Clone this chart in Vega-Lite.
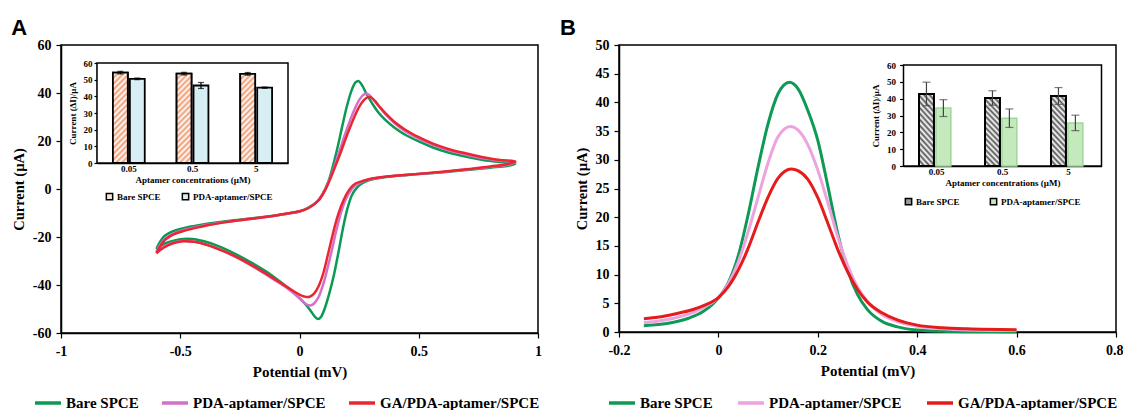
{
  "$schema": "https://vega.github.io/schema/vega-lite/v6.json",
  "padding": {"left": 10, "top": 16, "right": 0, "bottom": 0},
  "spacing": 16,
  "config": {
    "view": {"stroke": "black", "strokeWidth": 1.5},
    "font": "Liberation Serif",
    "axis": {"grid": false, "labelFlush": false, "domainColor": "black", "domainWidth": 1.5, "tickColor": "black", "tickWidth": 1.2, "tickSize": 5, "labelColor": "black", "labelFont": "Liberation Serif", "labelFontWeight": "bold", "labelFontSize": 14, "titleFont": "Liberation Serif", "titleFontWeight": "bold", "titleFontSize": 15, "titleColor": "black"},
    "legend": {"labelFont": "Liberation Serif", "labelFontWeight": "bold", "labelColor": "black"},
    "title": {"font": "Liberation Sans", "fontSize": 22, "fontWeight": "bold", "color": "black", "anchor": "start", "frame": "bounds", "offset": -2}
  },
  "datasets": {
    "cvA": [
      {"s":"Bare SPCE","i":1,"v":-0.6,"c":-25.0},{"s":"Bare SPCE","i":2,"v":-0.585,"c":-22.0},{"s":"Bare SPCE","i":3,"v":-0.565,"c":-19.5},{"s":"Bare SPCE","i":4,"v":-0.53,"c":-17.6},{"s":"Bare SPCE","i":5,"v":-0.49,"c":-16.4},{"s":"Bare SPCE","i":6,"v":-0.44,"c":-15.4},{"s":"Bare SPCE","i":7,"v":-0.38,"c":-14.4},{"s":"Bare SPCE","i":8,"v":-0.3,"c":-13.3},{"s":"Bare SPCE","i":9,"v":-0.2,"c":-12.2},{"s":"Bare SPCE","i":10,"v":-0.1,"c":-11.0},{"s":"Bare SPCE","i":11,"v":-0.04,"c":-10.1},{"s":"Bare SPCE","i":12,"v":0.0,"c":-9.4},{"s":"Bare SPCE","i":13,"v":0.04,"c":-7.6},{"s":"Bare SPCE","i":14,"v":0.07,"c":-5.6},{"s":"Bare SPCE","i":15,"v":0.096,"c":-2.2},{"s":"Bare SPCE","i":16,"v":0.12,"c":2.8},{"s":"Bare SPCE","i":17,"v":0.14,"c":9.5},{"s":"Bare SPCE","i":18,"v":0.16,"c":17.5},{"s":"Bare SPCE","i":19,"v":0.18,"c":26.5},{"s":"Bare SPCE","i":20,"v":0.2,"c":35.0},{"s":"Bare SPCE","i":21,"v":0.22,"c":41.5},{"s":"Bare SPCE","i":22,"v":0.235,"c":44.4},{"s":"Bare SPCE","i":23,"v":0.247,"c":45.0},{"s":"Bare SPCE","i":24,"v":0.26,"c":43.6},{"s":"Bare SPCE","i":25,"v":0.28,"c":39.8},{"s":"Bare SPCE","i":26,"v":0.305,"c":35.6},{"s":"Bare SPCE","i":27,"v":0.33,"c":32.0},{"s":"Bare SPCE","i":28,"v":0.36,"c":28.8},{"s":"Bare SPCE","i":29,"v":0.4,"c":25.4},{"s":"Bare SPCE","i":30,"v":0.445,"c":22.5},{"s":"Bare SPCE","i":31,"v":0.5,"c":19.8},{"s":"Bare SPCE","i":32,"v":0.557,"c":17.4},{"s":"Bare SPCE","i":33,"v":0.62,"c":15.3},{"s":"Bare SPCE","i":34,"v":0.7,"c":13.4},{"s":"Bare SPCE","i":35,"v":0.77,"c":12.1},{"s":"Bare SPCE","i":36,"v":0.84,"c":11.2},{"s":"Bare SPCE","i":37,"v":0.905,"c":10.5},{"s":"Bare SPCE","i":38,"v":0.87,"c":9.6},{"s":"Bare SPCE","i":39,"v":0.8,"c":8.9},{"s":"Bare SPCE","i":40,"v":0.7,"c":7.9},{"s":"Bare SPCE","i":41,"v":0.6,"c":7.0},{"s":"Bare SPCE","i":42,"v":0.5,"c":6.2},{"s":"Bare SPCE","i":43,"v":0.4,"c":5.4},{"s":"Bare SPCE","i":44,"v":0.34,"c":4.7},{"s":"Bare SPCE","i":45,"v":0.29,"c":3.6},{"s":"Bare SPCE","i":46,"v":0.26,"c":2.2},{"s":"Bare SPCE","i":47,"v":0.24,"c":0.5},{"s":"Bare SPCE","i":48,"v":0.22,"c":-2.5},{"s":"Bare SPCE","i":49,"v":0.2,"c":-8.5},{"s":"Bare SPCE","i":50,"v":0.18,"c":-17.5},{"s":"Bare SPCE","i":51,"v":0.165,"c":-25.5},{"s":"Bare SPCE","i":52,"v":0.145,"c":-35.5},{"s":"Bare SPCE","i":53,"v":0.125,"c":-43.5},{"s":"Bare SPCE","i":54,"v":0.105,"c":-50.0},{"s":"Bare SPCE","i":55,"v":0.09,"c":-53.3},{"s":"Bare SPCE","i":56,"v":0.078,"c":-54.2},{"s":"Bare SPCE","i":57,"v":0.065,"c":-53.3},{"s":"Bare SPCE","i":58,"v":0.045,"c":-50.5},{"s":"Bare SPCE","i":59,"v":0.02,"c":-47.5},{"s":"Bare SPCE","i":60,"v":-0.01,"c":-44.5},{"s":"Bare SPCE","i":61,"v":-0.07,"c":-39.5},{"s":"Bare SPCE","i":62,"v":-0.13,"c":-35.0},{"s":"Bare SPCE","i":63,"v":-0.2,"c":-30.8},{"s":"Bare SPCE","i":64,"v":-0.27,"c":-27.0},{"s":"Bare SPCE","i":65,"v":-0.34,"c":-23.8},{"s":"Bare SPCE","i":66,"v":-0.4,"c":-21.8},{"s":"Bare SPCE","i":67,"v":-0.45,"c":-20.8},{"s":"Bare SPCE","i":68,"v":-0.5,"c":-20.9},{"s":"Bare SPCE","i":69,"v":-0.55,"c":-22.2},{"s":"Bare SPCE","i":70,"v":-0.58,"c":-23.5},{"s":"Bare SPCE","i":71,"v":-0.6,"c":-25.0},
      {"s":"PDA-aptamer/SPCE","i":1,"v":-0.6,"c":-26.2},{"s":"PDA-aptamer/SPCE","i":2,"v":-0.585,"c":-23.4},{"s":"PDA-aptamer/SPCE","i":3,"v":-0.565,"c":-20.8},{"s":"PDA-aptamer/SPCE","i":4,"v":-0.53,"c":-18.6},{"s":"PDA-aptamer/SPCE","i":5,"v":-0.49,"c":-17.2},{"s":"PDA-aptamer/SPCE","i":6,"v":-0.44,"c":-16.0},{"s":"PDA-aptamer/SPCE","i":7,"v":-0.38,"c":-14.8},{"s":"PDA-aptamer/SPCE","i":8,"v":-0.3,"c":-13.6},{"s":"PDA-aptamer/SPCE","i":9,"v":-0.2,"c":-12.4},{"s":"PDA-aptamer/SPCE","i":10,"v":-0.1,"c":-11.1},{"s":"PDA-aptamer/SPCE","i":11,"v":-0.04,"c":-10.1},{"s":"PDA-aptamer/SPCE","i":12,"v":0.0,"c":-9.4},{"s":"PDA-aptamer/SPCE","i":13,"v":0.04,"c":-7.8},{"s":"PDA-aptamer/SPCE","i":14,"v":0.08,"c":-4.6},{"s":"PDA-aptamer/SPCE","i":15,"v":0.11,"c":0.3},{"s":"PDA-aptamer/SPCE","i":16,"v":0.13,"c":5.0},{"s":"PDA-aptamer/SPCE","i":17,"v":0.15,"c":10.5},{"s":"PDA-aptamer/SPCE","i":18,"v":0.17,"c":16.5},{"s":"PDA-aptamer/SPCE","i":19,"v":0.19,"c":22.5},{"s":"PDA-aptamer/SPCE","i":20,"v":0.21,"c":28.0},{"s":"PDA-aptamer/SPCE","i":21,"v":0.23,"c":33.0},{"s":"PDA-aptamer/SPCE","i":22,"v":0.25,"c":37.0},{"s":"PDA-aptamer/SPCE","i":23,"v":0.265,"c":39.0},{"s":"PDA-aptamer/SPCE","i":24,"v":0.278,"c":39.7},{"s":"PDA-aptamer/SPCE","i":25,"v":0.29,"c":39.3},{"s":"PDA-aptamer/SPCE","i":26,"v":0.305,"c":37.8},{"s":"PDA-aptamer/SPCE","i":27,"v":0.33,"c":34.8},{"s":"PDA-aptamer/SPCE","i":28,"v":0.36,"c":31.2},{"s":"PDA-aptamer/SPCE","i":29,"v":0.4,"c":27.3},{"s":"PDA-aptamer/SPCE","i":30,"v":0.445,"c":24.0},{"s":"PDA-aptamer/SPCE","i":31,"v":0.5,"c":21.0},{"s":"PDA-aptamer/SPCE","i":32,"v":0.557,"c":18.5},{"s":"PDA-aptamer/SPCE","i":33,"v":0.62,"c":16.3},{"s":"PDA-aptamer/SPCE","i":34,"v":0.7,"c":14.3},{"s":"PDA-aptamer/SPCE","i":35,"v":0.77,"c":12.8},{"s":"PDA-aptamer/SPCE","i":36,"v":0.84,"c":11.8},{"s":"PDA-aptamer/SPCE","i":37,"v":0.905,"c":11.1},{"s":"PDA-aptamer/SPCE","i":38,"v":0.87,"c":10.0},{"s":"PDA-aptamer/SPCE","i":39,"v":0.8,"c":9.2},{"s":"PDA-aptamer/SPCE","i":40,"v":0.7,"c":8.1},{"s":"PDA-aptamer/SPCE","i":41,"v":0.6,"c":7.1},{"s":"PDA-aptamer/SPCE","i":42,"v":0.5,"c":6.3},{"s":"PDA-aptamer/SPCE","i":43,"v":0.4,"c":5.5},{"s":"PDA-aptamer/SPCE","i":44,"v":0.34,"c":4.8},{"s":"PDA-aptamer/SPCE","i":45,"v":0.29,"c":3.9},{"s":"PDA-aptamer/SPCE","i":46,"v":0.26,"c":2.9},{"s":"PDA-aptamer/SPCE","i":47,"v":0.235,"c":1.7},{"s":"PDA-aptamer/SPCE","i":48,"v":0.215,"c":-0.6},{"s":"PDA-aptamer/SPCE","i":49,"v":0.195,"c":-4.0},{"s":"PDA-aptamer/SPCE","i":50,"v":0.175,"c":-9.5},{"s":"PDA-aptamer/SPCE","i":51,"v":0.155,"c":-17.0},{"s":"PDA-aptamer/SPCE","i":52,"v":0.138,"c":-24.5},{"s":"PDA-aptamer/SPCE","i":53,"v":0.12,"c":-32.0},{"s":"PDA-aptamer/SPCE","i":54,"v":0.1,"c":-39.5},{"s":"PDA-aptamer/SPCE","i":55,"v":0.08,"c":-45.0},{"s":"PDA-aptamer/SPCE","i":56,"v":0.06,"c":-47.8},{"s":"PDA-aptamer/SPCE","i":57,"v":0.045,"c":-48.5},{"s":"PDA-aptamer/SPCE","i":58,"v":0.025,"c":-47.8},{"s":"PDA-aptamer/SPCE","i":59,"v":0.0,"c":-45.5},{"s":"PDA-aptamer/SPCE","i":60,"v":-0.04,"c":-42.2},{"s":"PDA-aptamer/SPCE","i":61,"v":-0.1,"c":-38.2},{"s":"PDA-aptamer/SPCE","i":62,"v":-0.17,"c":-33.8},{"s":"PDA-aptamer/SPCE","i":63,"v":-0.25,"c":-29.2},{"s":"PDA-aptamer/SPCE","i":64,"v":-0.32,"c":-25.9},{"s":"PDA-aptamer/SPCE","i":65,"v":-0.39,"c":-23.2},{"s":"PDA-aptamer/SPCE","i":66,"v":-0.44,"c":-22.0},{"s":"PDA-aptamer/SPCE","i":67,"v":-0.49,"c":-21.7},{"s":"PDA-aptamer/SPCE","i":68,"v":-0.53,"c":-22.4},{"s":"PDA-aptamer/SPCE","i":69,"v":-0.57,"c":-24.1},{"s":"PDA-aptamer/SPCE","i":70,"v":-0.6,"c":-26.2},
      {"s":"GA/PDA-aptamer/SPCE","i":1,"v":-0.6,"c":-26.8},{"s":"GA/PDA-aptamer/SPCE","i":2,"v":-0.585,"c":-24.0},{"s":"GA/PDA-aptamer/SPCE","i":3,"v":-0.565,"c":-21.3},{"s":"GA/PDA-aptamer/SPCE","i":4,"v":-0.53,"c":-19.0},{"s":"GA/PDA-aptamer/SPCE","i":5,"v":-0.49,"c":-17.6},{"s":"GA/PDA-aptamer/SPCE","i":6,"v":-0.44,"c":-16.3},{"s":"GA/PDA-aptamer/SPCE","i":7,"v":-0.38,"c":-15.0},{"s":"GA/PDA-aptamer/SPCE","i":8,"v":-0.3,"c":-13.7},{"s":"GA/PDA-aptamer/SPCE","i":9,"v":-0.2,"c":-12.4},{"s":"GA/PDA-aptamer/SPCE","i":10,"v":-0.1,"c":-11.0},{"s":"GA/PDA-aptamer/SPCE","i":11,"v":-0.04,"c":-10.0},{"s":"GA/PDA-aptamer/SPCE","i":12,"v":0.0,"c":-9.3},{"s":"GA/PDA-aptamer/SPCE","i":13,"v":0.04,"c":-7.8},{"s":"GA/PDA-aptamer/SPCE","i":14,"v":0.08,"c":-4.8},{"s":"GA/PDA-aptamer/SPCE","i":15,"v":0.11,"c":0.0},{"s":"GA/PDA-aptamer/SPCE","i":16,"v":0.13,"c":4.5},{"s":"GA/PDA-aptamer/SPCE","i":17,"v":0.15,"c":9.5},{"s":"GA/PDA-aptamer/SPCE","i":18,"v":0.17,"c":14.5},{"s":"GA/PDA-aptamer/SPCE","i":19,"v":0.19,"c":20.0},{"s":"GA/PDA-aptamer/SPCE","i":20,"v":0.21,"c":25.2},{"s":"GA/PDA-aptamer/SPCE","i":21,"v":0.23,"c":30.0},{"s":"GA/PDA-aptamer/SPCE","i":22,"v":0.25,"c":34.2},{"s":"GA/PDA-aptamer/SPCE","i":23,"v":0.27,"c":37.0},{"s":"GA/PDA-aptamer/SPCE","i":24,"v":0.285,"c":38.2},{"s":"GA/PDA-aptamer/SPCE","i":25,"v":0.298,"c":38.3},{"s":"GA/PDA-aptamer/SPCE","i":26,"v":0.315,"c":36.8},{"s":"GA/PDA-aptamer/SPCE","i":27,"v":0.335,"c":34.4},{"s":"GA/PDA-aptamer/SPCE","i":28,"v":0.36,"c":31.6},{"s":"GA/PDA-aptamer/SPCE","i":29,"v":0.4,"c":27.8},{"s":"GA/PDA-aptamer/SPCE","i":30,"v":0.445,"c":24.6},{"s":"GA/PDA-aptamer/SPCE","i":31,"v":0.5,"c":21.6},{"s":"GA/PDA-aptamer/SPCE","i":32,"v":0.557,"c":19.0},{"s":"GA/PDA-aptamer/SPCE","i":33,"v":0.62,"c":16.8},{"s":"GA/PDA-aptamer/SPCE","i":34,"v":0.7,"c":14.8},{"s":"GA/PDA-aptamer/SPCE","i":35,"v":0.77,"c":13.2},{"s":"GA/PDA-aptamer/SPCE","i":36,"v":0.84,"c":12.1},{"s":"GA/PDA-aptamer/SPCE","i":37,"v":0.905,"c":11.5},{"s":"GA/PDA-aptamer/SPCE","i":38,"v":0.87,"c":10.3},{"s":"GA/PDA-aptamer/SPCE","i":39,"v":0.8,"c":9.4},{"s":"GA/PDA-aptamer/SPCE","i":40,"v":0.7,"c":8.2},{"s":"GA/PDA-aptamer/SPCE","i":41,"v":0.6,"c":7.2},{"s":"GA/PDA-aptamer/SPCE","i":42,"v":0.5,"c":6.3},{"s":"GA/PDA-aptamer/SPCE","i":43,"v":0.4,"c":5.5},{"s":"GA/PDA-aptamer/SPCE","i":44,"v":0.34,"c":4.9},{"s":"GA/PDA-aptamer/SPCE","i":45,"v":0.29,"c":4.1},{"s":"GA/PDA-aptamer/SPCE","i":46,"v":0.26,"c":3.2},{"s":"GA/PDA-aptamer/SPCE","i":47,"v":0.235,"c":2.3},{"s":"GA/PDA-aptamer/SPCE","i":48,"v":0.215,"c":0.5},{"s":"GA/PDA-aptamer/SPCE","i":49,"v":0.195,"c":-2.5},{"s":"GA/PDA-aptamer/SPCE","i":50,"v":0.175,"c":-7.0},{"s":"GA/PDA-aptamer/SPCE","i":51,"v":0.155,"c":-13.0},{"s":"GA/PDA-aptamer/SPCE","i":52,"v":0.138,"c":-19.5},{"s":"GA/PDA-aptamer/SPCE","i":53,"v":0.12,"c":-27.0},{"s":"GA/PDA-aptamer/SPCE","i":54,"v":0.1,"c":-35.0},{"s":"GA/PDA-aptamer/SPCE","i":55,"v":0.08,"c":-40.5},{"s":"GA/PDA-aptamer/SPCE","i":56,"v":0.06,"c":-43.7},{"s":"GA/PDA-aptamer/SPCE","i":57,"v":0.04,"c":-45.0},{"s":"GA/PDA-aptamer/SPCE","i":58,"v":0.02,"c":-44.8},{"s":"GA/PDA-aptamer/SPCE","i":59,"v":0.0,"c":-44.0},{"s":"GA/PDA-aptamer/SPCE","i":60,"v":-0.04,"c":-41.6},{"s":"GA/PDA-aptamer/SPCE","i":61,"v":-0.1,"c":-37.8},{"s":"GA/PDA-aptamer/SPCE","i":62,"v":-0.17,"c":-33.5},{"s":"GA/PDA-aptamer/SPCE","i":63,"v":-0.25,"c":-29.0},{"s":"GA/PDA-aptamer/SPCE","i":64,"v":-0.32,"c":-25.8},{"s":"GA/PDA-aptamer/SPCE","i":65,"v":-0.39,"c":-23.2},{"s":"GA/PDA-aptamer/SPCE","i":66,"v":-0.44,"c":-22.0},{"s":"GA/PDA-aptamer/SPCE","i":67,"v":-0.49,"c":-21.8},{"s":"GA/PDA-aptamer/SPCE","i":68,"v":-0.53,"c":-22.6},{"s":"GA/PDA-aptamer/SPCE","i":69,"v":-0.57,"c":-24.5},{"s":"GA/PDA-aptamer/SPCE","i":70,"v":-0.6,"c":-26.8}
    ],
    "dpvB": [
      {"s":"Bare SPCE","v":-0.15,"c":1.1},{"s":"Bare SPCE","v":-0.12,"c":1.3},{"s":"Bare SPCE","v":-0.09,"c":1.7},{"s":"Bare SPCE","v":-0.06,"c":2.4},{"s":"Bare SPCE","v":-0.03,"c":3.6},{"s":"Bare SPCE","v":0.0,"c":5.9},{"s":"Bare SPCE","v":0.02,"c":8.6},{"s":"Bare SPCE","v":0.04,"c":13.3},{"s":"Bare SPCE","v":0.06,"c":20.5},{"s":"Bare SPCE","v":0.08,"c":28.8},{"s":"Bare SPCE","v":0.1,"c":36.3},{"s":"Bare SPCE","v":0.12,"c":41.5},{"s":"Bare SPCE","v":0.143,"c":43.5},{"s":"Bare SPCE","v":0.16,"c":42.4},{"s":"Bare SPCE","v":0.18,"c":38.6},{"s":"Bare SPCE","v":0.2,"c":33.4},{"s":"Bare SPCE","v":0.22,"c":25.5},{"s":"Bare SPCE","v":0.24,"c":17.2},{"s":"Bare SPCE","v":0.26,"c":10.8},{"s":"Bare SPCE","v":0.28,"c":6.5},{"s":"Bare SPCE","v":0.3,"c":3.9},{"s":"Bare SPCE","v":0.33,"c":1.8},{"s":"Bare SPCE","v":0.36,"c":0.9},{"s":"Bare SPCE","v":0.4,"c":0.35},{"s":"Bare SPCE","v":0.45,"c":0.12},{"s":"Bare SPCE","v":0.5,"c":0.05},{"s":"Bare SPCE","v":0.6,"c":0.02},
      {"s":"PDA-aptamer/SPCE","v":-0.15,"c":1.6},{"s":"PDA-aptamer/SPCE","v":-0.12,"c":1.9},{"s":"PDA-aptamer/SPCE","v":-0.09,"c":2.4},{"s":"PDA-aptamer/SPCE","v":-0.06,"c":3.1},{"s":"PDA-aptamer/SPCE","v":-0.03,"c":4.3},{"s":"PDA-aptamer/SPCE","v":0.0,"c":6.0},{"s":"PDA-aptamer/SPCE","v":0.02,"c":8.4},{"s":"PDA-aptamer/SPCE","v":0.04,"c":12.2},{"s":"PDA-aptamer/SPCE","v":0.06,"c":17.5},{"s":"PDA-aptamer/SPCE","v":0.08,"c":23.5},{"s":"PDA-aptamer/SPCE","v":0.1,"c":29.5},{"s":"PDA-aptamer/SPCE","v":0.12,"c":34.0},{"s":"PDA-aptamer/SPCE","v":0.145,"c":35.8},{"s":"PDA-aptamer/SPCE","v":0.16,"c":35.2},{"s":"PDA-aptamer/SPCE","v":0.18,"c":32.6},{"s":"PDA-aptamer/SPCE","v":0.2,"c":28.2},{"s":"PDA-aptamer/SPCE","v":0.22,"c":22.6},{"s":"PDA-aptamer/SPCE","v":0.24,"c":16.6},{"s":"PDA-aptamer/SPCE","v":0.26,"c":11.6},{"s":"PDA-aptamer/SPCE","v":0.28,"c":7.8},{"s":"PDA-aptamer/SPCE","v":0.3,"c":5.3},{"s":"PDA-aptamer/SPCE","v":0.33,"c":3.0},{"s":"PDA-aptamer/SPCE","v":0.36,"c":1.8},{"s":"PDA-aptamer/SPCE","v":0.4,"c":1.0},{"s":"PDA-aptamer/SPCE","v":0.45,"c":0.55},{"s":"PDA-aptamer/SPCE","v":0.5,"c":0.35},{"s":"PDA-aptamer/SPCE","v":0.6,"c":0.25},
      {"s":"GA/PDA-aptamer/SPCE","v":-0.15,"c":2.3},{"s":"GA/PDA-aptamer/SPCE","v":-0.12,"c":2.6},{"s":"GA/PDA-aptamer/SPCE","v":-0.09,"c":3.1},{"s":"GA/PDA-aptamer/SPCE","v":-0.06,"c":3.7},{"s":"GA/PDA-aptamer/SPCE","v":-0.03,"c":4.6},{"s":"GA/PDA-aptamer/SPCE","v":0.0,"c":6.0},{"s":"GA/PDA-aptamer/SPCE","v":0.02,"c":7.9},{"s":"GA/PDA-aptamer/SPCE","v":0.04,"c":10.8},{"s":"GA/PDA-aptamer/SPCE","v":0.06,"c":14.6},{"s":"GA/PDA-aptamer/SPCE","v":0.08,"c":19.2},{"s":"GA/PDA-aptamer/SPCE","v":0.1,"c":23.5},{"s":"GA/PDA-aptamer/SPCE","v":0.12,"c":26.8},{"s":"GA/PDA-aptamer/SPCE","v":0.147,"c":28.4},{"s":"GA/PDA-aptamer/SPCE","v":0.16,"c":28.1},{"s":"GA/PDA-aptamer/SPCE","v":0.18,"c":26.6},{"s":"GA/PDA-aptamer/SPCE","v":0.2,"c":23.4},{"s":"GA/PDA-aptamer/SPCE","v":0.22,"c":19.0},{"s":"GA/PDA-aptamer/SPCE","v":0.24,"c":14.4},{"s":"GA/PDA-aptamer/SPCE","v":0.26,"c":10.5},{"s":"GA/PDA-aptamer/SPCE","v":0.28,"c":7.4},{"s":"GA/PDA-aptamer/SPCE","v":0.3,"c":5.2},{"s":"GA/PDA-aptamer/SPCE","v":0.33,"c":3.3},{"s":"GA/PDA-aptamer/SPCE","v":0.36,"c":2.1},{"s":"GA/PDA-aptamer/SPCE","v":0.4,"c":1.2},{"s":"GA/PDA-aptamer/SPCE","v":0.45,"c":0.75},{"s":"GA/PDA-aptamer/SPCE","v":0.5,"c":0.55},{"s":"GA/PDA-aptamer/SPCE","v":0.6,"c":0.4}
    ],
    "barsA": [
      {"conc":"0.05","g":"Bare SPCE","val":54.2,"lo":53.4,"hi":55.0},
      {"conc":"0.05","g":"PDA-aptamer/SPCE","val":50.5,"lo":50.0,"hi":51.0},
      {"conc":"0.5","g":"Bare SPCE","val":53.6,"lo":52.8,"hi":54.4},
      {"conc":"0.5","g":"PDA-aptamer/SPCE","val":46.5,"lo":44.7,"hi":48.3},
      {"conc":"5","g":"Bare SPCE","val":53.5,"lo":52.7,"hi":54.3},
      {"conc":"5","g":"PDA-aptamer/SPCE","val":45.2,"lo":44.8,"hi":45.6}
    ],
    "barsB": [
      {"conc":"0.05","g":"Bare SPCE","val":42.8,"lo":35.8,"hi":49.8},
      {"conc":"0.05","g":"PDA-aptamer/SPCE","val":34.4,"lo":29.4,"hi":39.4},
      {"conc":"0.5","g":"Bare SPCE","val":40.4,"lo":36.1,"hi":44.7},
      {"conc":"0.5","g":"PDA-aptamer/SPCE","val":28.4,"lo":22.9,"hi":33.9},
      {"conc":"5","g":"Bare SPCE","val":41.6,"lo":36.6,"hi":46.6},
      {"conc":"5","g":"PDA-aptamer/SPCE","val":25.6,"lo":21.0,"hi":30.2}
    ]
  },
  "resolve": {"scale": {"color": "independent", "fill": "independent"}},
  "hconcat": [
    {
      "title": {"text": "A"},
      "width": 477,
      "height": 288,
      "resolve": {"scale": {"x": "independent", "y": "independent"}},
      "layer": [
        {
          "data": {"name": "cvA"},
          "mark": {"type": "line", "interpolate": "catmull-rom", "strokeWidth": 2.5},
          "encoding": {
            "x": {"field": "v", "type": "quantitative", "scale": {"domain": [-1, 1], "nice": false, "zero": false},
                  "axis": {"values": [-1, -0.5, 0, 0.5, 1], "format": "~g", "labelExpr": "replace(datum.label, '−', '-')", "title": "Potential (mV)", "labelPadding": 6, "titlePadding": 6}},
            "y": {"field": "c", "type": "quantitative", "scale": {"domain": [-60, 60], "nice": false},
                  "axis": {"values": [-60, -40, -20, 0, 20, 40, 60], "labelExpr": "replace(datum.label, '−', '-')", "title": "Current  (µA)", "titleFontSize": 14.5, "labelPadding": 5, "titlePadding": 6}},
            "color": {"field": "s", "type": "nominal",
                      "scale": {"domain": ["Bare SPCE", "PDA-aptamer/SPCE", "GA/PDA-aptamer/SPCE"], "range": ["#0b9a55", "#d66fc6", "#ea2631"]},
                      "legend": {"title": null, "orient": "none", "legendX": -28, "legendY": 343, "direction": "horizontal", "symbolType": "stroke", "symbolSize": 676, "symbolStrokeWidth": 3.5, "labelFontSize": 15, "labelOffset": 3, "columnPadding": 16}},
            "order": {"field": "i", "type": "quantitative"}
          }
        },
        {
          "data": {"values": [{"x0": 0, "x1": 1, "y0": 0, "y1": 60}]},
          "mark": {"type": "rect", "fill": "white", "stroke": "black", "strokeWidth": 1.5},
          "encoding": {
            "x": {"field": "x0", "type": "quantitative", "scale": {"domain": [0, 1], "range": [36, 227], "nice": false, "zero": false}, "axis": null},
            "x2": {"field": "x1"},
            "y": {"field": "y0", "type": "quantitative", "scale": {"domain": [0, 60], "range": [118, 18], "nice": false}, "axis": null},
            "y2": {"field": "y1"}
          }
        },
        {
          "data": {"name": "barsA"},
          "encoding": {
            "x": {"field": "conc", "type": "ordinal", "sort": ["0.05", "0.5", "5"], "scale": {"range": [36, 227], "paddingInner": 0.5, "paddingOuter": 0.25},
                  "axis": {"orient": "bottom", "offset": -170, "title": "Aptamer concentrations (µM)", "titleFontSize": 9, "labelFontSize": 9, "labelAngle": 0, "ticks": false, "labelPadding": 1, "titlePadding": 2}},
            "xOffset": {"field": "g", "type": "nominal", "sort": ["Bare SPCE", "PDA-aptamer/SPCE"], "scale": {"paddingInner": 0.12}}
          },
          "layer": [
            {
              "mark": {"type": "bar", "stroke": "black", "strokeWidth": 1.8},
              "encoding": {
                "y": {"field": "val", "type": "quantitative", "scale": {"domain": [0, 60], "range": [118, 18], "nice": false},
                      "axis": {"orient": "left", "offset": -36, "values": [0, 10, 20, 30, 40, 50, 60], "title": "Current (ΔI)/µA", "titleFontSize": 9, "labelFontSize": 9, "tickSize": 3, "labelPadding": 2, "titlePadding": 6}},
                "fill": {"field": "g", "type": "nominal",
                         "scale": {"domain": ["Bare SPCE", "PDA-aptamer/SPCE"], "range": ["#fbe6da", "#d7eef5"]},
                         "legend": {"title": null, "orient": "none", "legendX": 44, "legendY": 147, "direction": "horizontal", "symbolType": "square", "symbolSize": 40, "symbolStrokeColor": "black", "symbolStrokeWidth": 1.5, "labelFontSize": 9, "labelOffset": 3, "columnPadding": 18}}
              }
            },
            {
              "transform": [{"filter": "datum.g === 'Bare SPCE'"}],
              "mark": {"type": "bar", "stroke": "black", "strokeWidth": 1.8,
                       "fill": {"gradient": "linear", "x1": 0, "y1": 0, "x2": 0.19, "y2": 1.13, "stops": [
                         {"offset": 0.0, "color": "#ee9a72"}, {"offset": 0.0278, "color": "#ffffff"},
                         {"offset": 0.0556, "color": "#ee9a72"}, {"offset": 0.0833, "color": "#ffffff"},
                         {"offset": 0.1111, "color": "#ee9a72"}, {"offset": 0.1389, "color": "#ffffff"},
                         {"offset": 0.1667, "color": "#ee9a72"}, {"offset": 0.1944, "color": "#ffffff"},
                         {"offset": 0.2222, "color": "#ee9a72"}, {"offset": 0.25, "color": "#ffffff"},
                         {"offset": 0.2778, "color": "#ee9a72"}, {"offset": 0.3056, "color": "#ffffff"},
                         {"offset": 0.3333, "color": "#ee9a72"}, {"offset": 0.3611, "color": "#ffffff"},
                         {"offset": 0.3889, "color": "#ee9a72"}, {"offset": 0.4167, "color": "#ffffff"},
                         {"offset": 0.4444, "color": "#ee9a72"}, {"offset": 0.4722, "color": "#ffffff"},
                         {"offset": 0.5, "color": "#ee9a72"}, {"offset": 0.5278, "color": "#ffffff"},
                         {"offset": 0.5556, "color": "#ee9a72"}, {"offset": 0.5833, "color": "#ffffff"},
                         {"offset": 0.6111, "color": "#ee9a72"}, {"offset": 0.6389, "color": "#ffffff"},
                         {"offset": 0.6667, "color": "#ee9a72"}, {"offset": 0.6944, "color": "#ffffff"},
                         {"offset": 0.7222, "color": "#ee9a72"}, {"offset": 0.75, "color": "#ffffff"},
                         {"offset": 0.7778, "color": "#ee9a72"}, {"offset": 0.8056, "color": "#ffffff"},
                         {"offset": 0.8333, "color": "#ee9a72"}, {"offset": 0.8611, "color": "#ffffff"},
                         {"offset": 0.8889, "color": "#ee9a72"}, {"offset": 0.9167, "color": "#ffffff"},
                         {"offset": 0.9444, "color": "#ee9a72"}, {"offset": 0.9722, "color": "#ffffff"},
                         {"offset": 1.0, "color": "#ee9a72"}]}},
              "encoding": {"y": {"field": "val", "type": "quantitative"}}
            },
            {
              "mark": {"type": "rule", "color": "black", "strokeWidth": 1.2},
              "encoding": {"y": {"field": "lo", "type": "quantitative"}, "y2": {"field": "hi"}}
            },
            {
              "mark": {"type": "tick", "color": "black", "thickness": 1.2, "size": 6},
              "encoding": {"y": {"field": "lo", "type": "quantitative"}}
            },
            {
              "mark": {"type": "tick", "color": "black", "thickness": 1.2, "size": 6},
              "encoding": {"y": {"field": "hi", "type": "quantitative"}}
            }
          ]
        }
      ]
    },
    {
      "title": {"text": "B", "dx": -14},
      "width": 497,
      "height": 287,
      "resolve": {"scale": {"x": "independent", "y": "independent"}},
      "layer": [
        {
          "data": {"name": "dpvB"},
          "mark": {"type": "line", "interpolate": "monotone", "strokeWidth": 3},
          "encoding": {
            "x": {"field": "v", "type": "quantitative", "scale": {"domain": [-0.2, 0.8], "nice": false, "zero": false},
                  "axis": {"values": [-0.2, 0, 0.2, 0.4, 0.6, 0.8], "format": "~g", "labelExpr": "replace(datum.label, '−', '-')", "title": "Potential (mV)", "labelPadding": 6, "titlePadding": 6,
                           "labelAlign": {"condition": {"test": "datum.value > 0.79", "value": "right"}, "value": "center"},
                           "labelOffset": {"condition": {"test": "datum.value > 0.79", "value": 7}, "value": 0}}},
            "y": {"field": "c", "type": "quantitative", "scale": {"domain": [0, 50], "nice": false},
                  "axis": {"values": [0, 5, 10, 15, 20, 25, 30, 35, 40, 45, 50], "title": "Current  (µA)", "titleFontSize": 14.5, "labelPadding": 5, "titlePadding": 6}},
            "color": {"field": "s", "type": "nominal",
                      "scale": {"domain": ["Bare SPCE", "PDA-aptamer/SPCE", "GA/PDA-aptamer/SPCE"], "range": ["#0e9a56", "#eda3de", "#e41c1c"]},
                      "legend": {"title": null, "orient": "none", "legendX": -12, "legendY": 343, "direction": "horizontal", "symbolType": "stroke", "symbolSize": 676, "symbolStrokeWidth": 3.5, "labelFontSize": 15, "labelOffset": 3, "columnPadding": 18}}
          }
        },
        {
          "data": {"values": [{"x0": 0, "x1": 1, "y0": 0, "y1": 60}]},
          "mark": {"type": "rect", "fill": "white", "stroke": "black", "strokeWidth": 1.5},
          "encoding": {
            "x": {"field": "x0", "type": "quantitative", "scale": {"domain": [0, 1], "range": [284.5, 482.5], "nice": false, "zero": false}, "axis": null},
            "x2": {"field": "x1"},
            "y": {"field": "y0", "type": "quantitative", "scale": {"domain": [0, 60], "range": [121, 20], "nice": false}, "axis": null},
            "y2": {"field": "y1"}
          }
        },
        {
          "data": {"name": "barsB"},
          "encoding": {
            "x": {"field": "conc", "type": "ordinal", "sort": ["0.05", "0.5", "5"], "scale": {"range": [284.5, 482.5], "paddingInner": 0.47, "paddingOuter": 0.235},
                  "axis": {"orient": "bottom", "offset": -166, "title": "Aptamer concentrations (µM)", "titleFontSize": 9, "labelFontSize": 9, "labelAngle": 0, "ticks": false, "labelPadding": 1, "titlePadding": 2}},
            "xOffset": {"field": "g", "type": "nominal", "sort": ["Bare SPCE", "PDA-aptamer/SPCE"], "scale": {"paddingInner": 0.15}}
          },
          "layer": [
            {
              "mark": {"type": "bar", "strokeWidth": 1.5},
              "encoding": {
                "y": {"field": "val", "type": "quantitative", "scale": {"domain": [0, 60], "range": [121, 20], "nice": false},
                      "axis": {"orient": "left", "offset": -284.5, "values": [0, 10, 20, 30, 40, 50, 60], "title": "Current (ΔI)/µA", "titleFontSize": 9, "labelFontSize": 9, "tickSize": 4, "labelPadding": 4, "titlePadding": 6}},
                "fill": {"field": "g", "type": "nominal",
                         "scale": {"domain": ["Bare SPCE", "PDA-aptamer/SPCE"], "range": ["#9a9a9a", "#c4e9bc"]},
                         "legend": {"title": null, "orient": "none", "legendX": 285, "legendY": 152, "direction": "horizontal", "symbolType": "square", "symbolSize": 40, "symbolStrokeColor": "black", "symbolStrokeWidth": 1.5, "labelFontSize": 9, "labelOffset": 3, "columnPadding": 27}},
                "stroke": {"condition": {"test": "datum.g === 'Bare SPCE'", "value": "black"}, "value": "#9fd69a"}
              }
            },
            {
              "transform": [{"filter": "datum.g === 'Bare SPCE'"}],
              "mark": {"type": "bar", "stroke": "black", "strokeWidth": 2,
                       "fill": {"gradient": "linear", "x1": 0, "y1": 1, "x2": 0.265, "y2": -0.167, "stops": [
                         {"offset": 0.0, "color": "#555555"}, {"offset": 0.0333, "color": "#ffffff"},
                         {"offset": 0.0667, "color": "#555555"}, {"offset": 0.1, "color": "#ffffff"},
                         {"offset": 0.1333, "color": "#555555"}, {"offset": 0.1667, "color": "#ffffff"},
                         {"offset": 0.2, "color": "#555555"}, {"offset": 0.2333, "color": "#ffffff"},
                         {"offset": 0.2667, "color": "#555555"}, {"offset": 0.3, "color": "#ffffff"},
                         {"offset": 0.3333, "color": "#555555"}, {"offset": 0.3667, "color": "#ffffff"},
                         {"offset": 0.4, "color": "#555555"}, {"offset": 0.4333, "color": "#ffffff"},
                         {"offset": 0.4667, "color": "#555555"}, {"offset": 0.5, "color": "#ffffff"},
                         {"offset": 0.5333, "color": "#555555"}, {"offset": 0.5667, "color": "#ffffff"},
                         {"offset": 0.6, "color": "#555555"}, {"offset": 0.6333, "color": "#ffffff"},
                         {"offset": 0.6667, "color": "#555555"}, {"offset": 0.7, "color": "#ffffff"},
                         {"offset": 0.7333, "color": "#555555"}, {"offset": 0.7667, "color": "#ffffff"},
                         {"offset": 0.8, "color": "#555555"}, {"offset": 0.8333, "color": "#ffffff"},
                         {"offset": 0.8667, "color": "#555555"}, {"offset": 0.9, "color": "#ffffff"},
                         {"offset": 0.9333, "color": "#555555"}, {"offset": 0.9667, "color": "#ffffff"},
                         {"offset": 1.0, "color": "#555555"}]}},
              "encoding": {"y": {"field": "val", "type": "quantitative"}}
            },
            {
              "mark": {"type": "rule", "color": "#444444", "strokeWidth": 1.2},
              "encoding": {"y": {"field": "lo", "type": "quantitative"}, "y2": {"field": "hi"}}
            },
            {
              "mark": {"type": "tick", "color": "#444444", "thickness": 1.2, "size": 8},
              "encoding": {"y": {"field": "lo", "type": "quantitative"}}
            },
            {
              "mark": {"type": "tick", "color": "#444444", "thickness": 1.2, "size": 8},
              "encoding": {"y": {"field": "hi", "type": "quantitative"}}
            }
          ]
        }
      ]
    }
  ]
}
